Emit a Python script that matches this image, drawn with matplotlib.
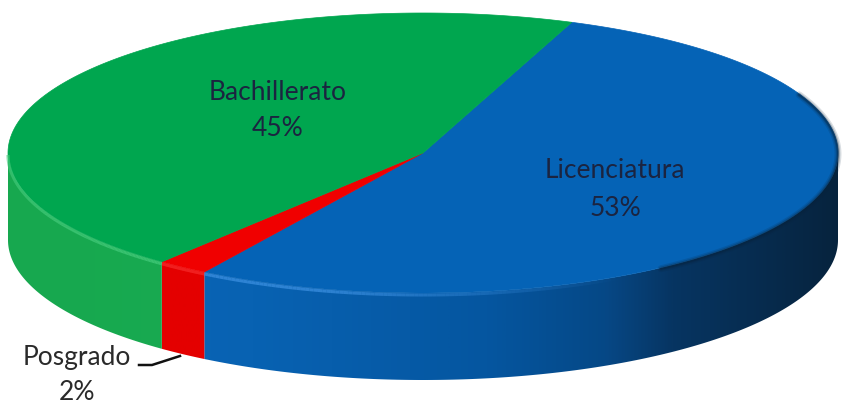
import numpy as np
import matplotlib.pyplot as plt
from matplotlib.patches import Polygon
from matplotlib.collections import LineCollection
from matplotlib.colors import LinearSegmentedColormap, to_rgba

# Education level shares (clockwise from the top-right)
labels = ['Licenciatura', 'Posgrado', 'Bachillerato']
values = [53, 2, 45]
top_colors = ['#0563b6', '#f00000', '#00a64f']
side_colors = [
    [(0.0, '#0a68bc'), (0.30, '#0862b2'), (0.58, '#0556a0'), (0.72, '#064886'),
     (0.80, '#073562'), (1.0, '#06233d')],
    [(0.0, '#e40000'), (1.0, '#e40000')],
    [(0.0, '#17a84f'), (1.0, '#1db156')],
]
rim_colors = ['#3b8fe0', '#ff3a3a', '#45cc7c']

# pie geometry, in pixels
cx, cy, rx, ry, depth = 423, 153, 415, 140, 87
start_angle = 69.0

plt.rcParams['font.family'] = ['Lato', 'DejaVu Sans']

fig = plt.figure(figsize=(8.42, 4.04), dpi=100)
ax = fig.add_axes([0, 0, 1, 1])
ax.set_xlim(0, 842)
ax.set_ylim(404, 0)
ax.axis('off')


def ellipse_pts(t_deg, dy=0.0):
    t = np.radians(t_deg)
    return np.column_stack([cx + rx * np.cos(t), cy - ry * np.sin(t) + dy])


frac = np.array(values, dtype=float) / sum(values)
edges = start_angle - np.concatenate([[0], np.cumsum(frac)]) * 360.0

# side walls (only the front half, -180..0 degrees, can be seen)
grad = np.linspace(0, 1, 512)[None, :]
for i in range(len(values)):
    hi, lo = edges[i], edges[i + 1]
    a, b = max(lo, -180.0), min(hi, 0.0)
    if b <= a:
        continue
    ts = np.linspace(a, b, 200)
    top = ellipse_pts(ts)
    bot = ellipse_pts(ts[::-1], depth)
    poly = Polygon(np.vstack([top, bot]), closed=True, facecolor='none',
                   edgecolor='none', transform=ax.transData)
    ax.add_patch(poly)
    cmap = LinearSegmentedColormap.from_list('side%d' % i, side_colors[i])
    im = ax.imshow(grad, cmap=cmap, extent=(0, 842, 404, 0), aspect='auto',
                   interpolation='bilinear', zorder=1)
    im.set_clip_path(poly)

    # light bevel along the upper front edge, fading towards the right
    pts = top + np.array([0, 2.0])
    segs = np.stack([pts[:-1], pts[1:]], axis=1)
    xm = segs[:, :, 0].mean(axis=1)
    fade = np.clip((620 - xm) / 300.0, 0, 1) * 0.75
    cols = [to_rgba(rim_colors[i], f) for f in fade]
    ax.add_collection(LineCollection(segs, colors=cols, linewidths=2.2,
                                     capstyle='butt', zorder=3))

# top face
for i in range(len(values)):
    ts = np.linspace(edges[i], edges[i + 1], 300)
    pts = np.vstack([[cx, cy], ellipse_pts(ts)])
    ax.add_patch(Polygon(pts, closed=True, facecolor=top_colors[i],
                         edgecolor=top_colors[i], lw=0.5, zorder=2))

# soft shadow where the top meets the dark right-hand wall
for w, al in [(5, 0.15), (3, 0.25), (1.5, 0.4)]:
    ts = np.linspace(25, -55, 120)
    rim = ellipse_pts(ts)
    ax.plot(rim[:, 0], rim[:, 1] + 1, color='#06233d', lw=w, alpha=al,
            solid_capstyle='round', zorder=3)

# labels
txt = '#1b2440'
ax.text(278, 92, labels[2], ha='center', va='center', fontsize=19, color=txt, zorder=5)
ax.text(278, 129, '%d%%' % values[2], ha='center', va='center', fontsize=19, color=txt, zorder=5)
ax.text(615, 171, labels[0], ha='center', va='center', fontsize=19, color=txt, zorder=5)
ax.text(615, 209, '%d%%' % values[0], ha='center', va='center', fontsize=19, color=txt, zorder=5)
ax.text(77, 358, labels[1], ha='center', va='center', fontsize=19, color='#2a2a2a', zorder=5)
ax.text(77, 393, '%d%%' % values[1], ha='center', va='center', fontsize=19, color='#2a2a2a', zorder=5)
ax.plot([139, 152, 180], [365, 365, 356], color='#111111', lw=1.8, zorder=5)

fig.savefig('out.png', dpi=100)
